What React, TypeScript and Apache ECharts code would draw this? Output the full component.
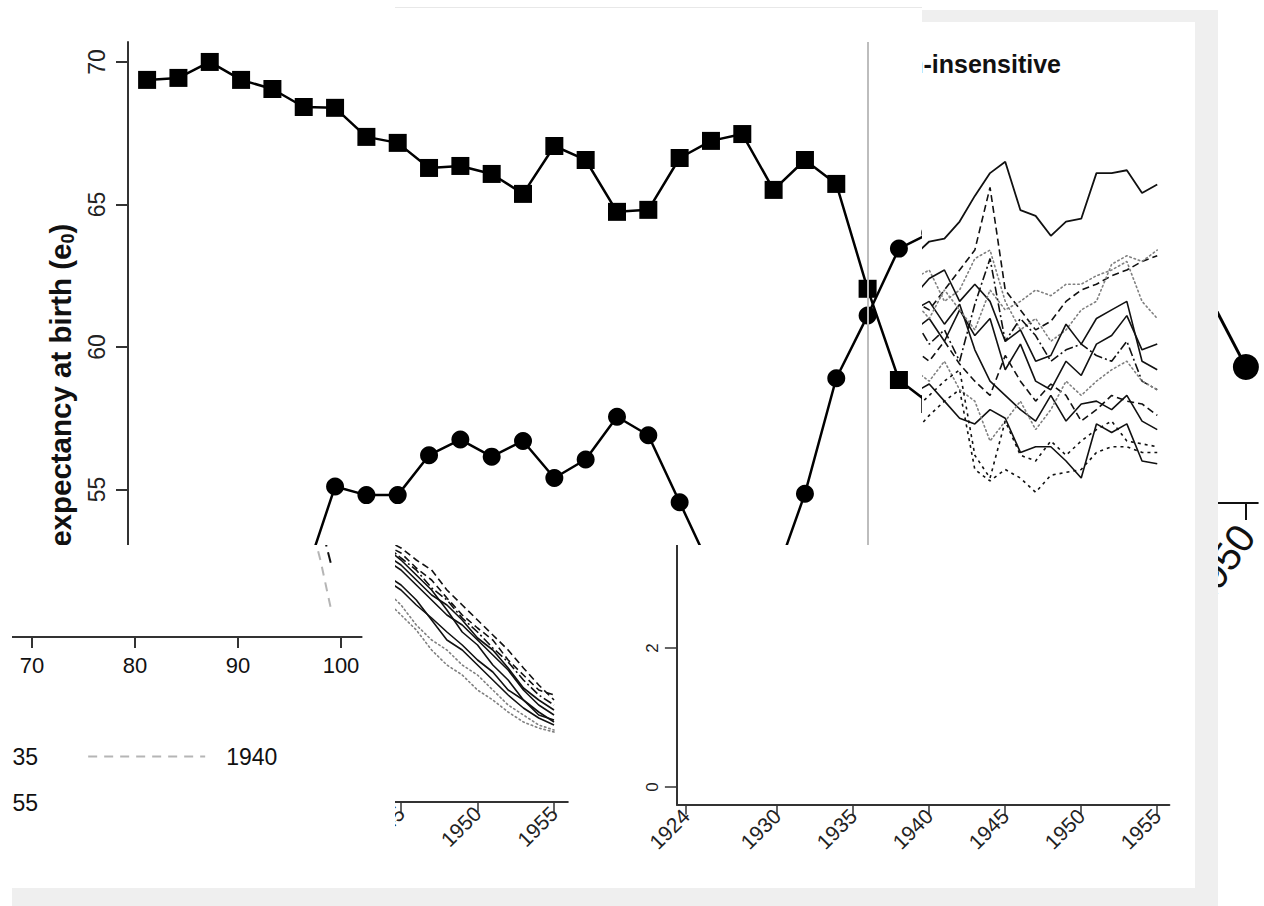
import React, { useEffect, useRef } from "react";
import * as echarts from "echarts";

const FONT = "'Liberation Sans', Arial, Helvetica, sans-serif";

// ---- Main panel: life expectancy at birth of two groups ----
const squareYears = [1924, 1925, 1926, 1927, 1928, 1929, 1930, 1931, 1932, 1933, 1934, 1935, 1936, 1937, 1938, 1939, 1940, 1941, 1942, 1943, 1944, 1945, 1946, 1947, 1948, 1949];
const squareE0 = [69.37, 69.44, 70.0, 69.37, 69.05, 68.42, 68.39, 67.37, 67.16, 66.28, 66.35, 66.07, 65.37, 67.05, 66.56, 64.74, 64.81, 66.63, 67.23, 67.47, 65.51, 66.56, 65.72, 62.04, 58.84, 58.0];
const circleYears = [1929, 1930, 1931, 1932, 1933, 1934, 1935, 1936, 1937, 1938, 1939, 1940, 1941, 1942, 1943, 1944, 1945, 1946, 1947, 1948, 1949];
const circleE0 = [51.8, 55.1, 54.8, 54.8, 56.2, 56.75, 56.15, 56.7, 55.4, 56.05, 57.55, 56.9, 54.55, 52.2, 51.0, 51.75, 54.85, 58.9, 61.1, 63.45, 64.0];
const mainTicks = [50, 55, 60, 65, 70];
const breakYear = 1947;

// ---- Right panel: insensitive scenario runs ----
const panelYears = [1939, 1940, 1941, 1942, 1943, 1944, 1945, 1946, 1947, 1948, 1949, 1950, 1951, 1952, 1953, 1954, 1955];
const runTop = [63.2, 63.7, 63.8, 64.4, 65.3, 66.1, 66.5, 64.8, 64.6, 63.9, 64.4, 64.5, 66.1, 66.1, 66.2, 65.4, 65.7];
const run1 = [58.4, 58.7, 58.1, 57.5, 57.3, 57.8, 57.5, 56.3, 56.5, 56.5, 56.0, 55.4, 57.3, 57.0, 57.3, 56.0, 55.9];
const run2 = [57.0, 57.6, 58.1, 58.5, 55.7, 55.3, 55.7, 55.4, 54.9, 55.5, 55.6, 55.7, 56.3, 56.5, 56.5, 56.3, 56.3];
const run3 = [61.6, 61.3, 62.0, 62.7, 63.4, 65.6, 62.0, 61.3, 60.6, 60.9, 61.6, 62.0, 62.2, 62.5, 62.7, 63.0, 63.2];
const run4 = [60.6, 61.0, 60.2, 61.3, 60.4, 61.0, 59.2, 60.1, 58.8, 58.5, 59.5, 59.0, 60.1, 60.4, 61.1, 59.9, 60.1];
const run5 = [62.4, 62.7, 61.6, 62.0, 63.1, 63.4, 61.6, 60.6, 61.0, 60.2, 60.6, 61.3, 61.6, 62.9, 63.2, 63.0, 63.4];
const run6 = [59.9, 59.5, 60.2, 59.4, 58.8, 58.3, 59.7, 58.8, 58.1, 58.7, 58.3, 57.4, 57.8, 58.3, 58.1, 58.0, 57.6];
const run7 = [61.3, 61.6, 60.8, 61.5, 59.9, 58.8, 58.3, 57.8, 57.4, 58.3, 57.4, 58.0, 58.1, 57.8, 58.3, 57.4, 57.1];
const run8 = [61.0, 60.1, 60.6, 59.5, 61.5, 63.1, 60.2, 61.0, 60.4, 59.5, 59.9, 60.1, 59.7, 59.5, 60.2, 58.8, 58.5];
const run9 = [59.2, 58.8, 59.5, 58.5, 58.1, 56.7, 57.4, 58.1, 57.1, 57.8, 58.8, 58.3, 58.8, 59.2, 59.5, 58.8, 58.5];
const run10 = [57.8, 58.3, 58.8, 59.2, 56.2, 55.4, 57.4, 56.2, 56.0, 56.7, 56.2, 56.7, 57.1, 57.4, 56.7, 56.6, 56.5];
const run11 = [61.8, 62.4, 62.7, 61.6, 62.2, 61.6, 60.2, 60.6, 59.5, 59.7, 60.8, 60.1, 61.0, 61.3, 61.6, 59.5, 59.2];
const run12 = [61.6, 61.0, 62.0, 61.3, 60.6, 62.0, 61.3, 61.6, 62.0, 61.8, 62.2, 62.2, 62.5, 62.7, 63.0, 61.6, 61.0];

// ---- Lower-middle panel: declining runs ----
const declineYears = [1944, 1945, 1946, 1947, 1948, 1949, 1950, 1951, 1952, 1953, 1954, 1955];
const dec1 = [23.0, 22.0, 20.5, 19.0, 17.5, 16.5, 15.0, 13.5, 12.0, 10.0, 8.5, 7.5];
const dec2 = [24.2, 23.0, 21.5, 20.0, 18.0, 15.8, 14.5, 12.5, 11.0, 9.0, 7.8, 6.8];
const dec3 = [24.5, 23.7, 22.2, 21.0, 19.2, 17.5, 16.2, 15.0, 13.0, 11.5, 10.0, 9.5];
const dec4 = [20.0, 18.5, 16.5, 15.0, 14.0, 12.5, 11.5, 10.0, 8.5, 7.5, 6.5, 6.0];
const dec5 = [21.5, 20.5, 19.0, 17.0, 15.0, 14.0, 12.5, 11.0, 9.5, 8.2, 7.2, 6.5];
const dec6 = [25.0, 24.2, 23.0, 22.0, 20.0, 18.5, 17.0, 15.5, 14.0, 12.2, 10.5, 9.0];
const dec7 = [19.0, 17.5, 16.0, 14.0, 12.5, 11.5, 10.0, 9.0, 7.8, 6.8, 6.2, 5.8];
const dec8 = [23.5, 22.5, 21.0, 19.5, 18.5, 17.0, 15.2, 14.0, 12.2, 10.2, 9.0, 8.0];
const dec9 = [24.5, 23.2, 22.0, 20.2, 19.0, 17.2, 15.8, 14.2, 12.8, 11.0, 9.5, 8.5];
const dec10 = [21.0, 20.0, 18.5, 17.2, 15.8, 14.5, 13.0, 11.8, 10.0, 9.0, 7.5, 7.0];

// ---- Lower-left panel: survival tail by age ----
const ageTicks = [70, 80, 90, 100];
const ages = [97, 98, 99];
const surv1935 = [0.3, 0.2, 0.115];
const surv1940 = [0.204, 0.121, 0.021];
const cohortNames = ["1935", "1940", "1955"];

// ---- Lower-right panel axes ----
const yearTicks = [1924, 1930, 1935, 1940, 1945, 1950, 1955];
const rateTicks = [0, 2, 4];

// ---- Far-right enlarged detail ----
const detailYears = [1949, 1950];
const detailE0 = [62.94, 59.32];
const detailTicks = [1950];

const SOLID = { color: "#111", width: 1.6, type: "solid" };
const DASHED = { color: "#111", width: 1.6, type: [7, 4] };
const SHORTDASH = { color: "#111", width: 1.6, type: [3, 4] };
const DOTTED = { color: "#808080", width: 1.6, type: [1.5, 3], cap: "round" };
const DASHDOT = { color: "#111", width: 1.6, type: [9, 3, 2, 3] };

const plain = (v: number) => String(v);
const pairs = (xs: number[], ys: number[]) => xs.map((x, i) => [x, ys[i]]);
const run = (name: string, xs: number[], ys: number[], style: any) => ({
  type: "line",
  name,
  data: pairs(xs, ys),
  symbol: "none",
  silent: true,
  lineStyle: style,
  itemStyle: { color: style.color },
});

type Box = { x: number; y: number; w: number; h: number };

function Chart({ clip, frame, option }: { clip: Box; frame: Box; option: any }) {
  const ref = useRef<HTMLDivElement>(null);
  useEffect(() => {
    const chart = echarts.init(ref.current!, null, { renderer: "svg" });
    chart.setOption(option);
    return () => chart.dispose();
  }, []);
  return (
    <div style={{ position: "absolute", left: clip.x, top: clip.y, width: clip.w, height: clip.h, overflow: "hidden", background: "#fff" }}>
      <div ref={ref} style={{ position: "absolute", left: frame.x - clip.x, top: frame.y - clip.y, width: frame.w, height: frame.h }} />
    </div>
  );
}

const PAGE: Box = { x: 0, y: 0, w: 1264, h: 906 };
const axisColor = "#333";

const mainOption = {
  animation: false,
  grid: { left: 128, top: 42, width: 1009, height: 747.2 },
  xAxis: { type: "value", min: 1923.39, max: 1955.6, show: false },
  yAxis: {
    type: "value",
    min: 44.48,
    max: 70.7,
    axisLine: { show: true, lineStyle: { color: axisColor, width: 2 } },
    axisTick: { show: true, length: 12, customValues: mainTicks, lineStyle: { color: axisColor, width: 2 } },
    axisLabel: { customValues: mainTicks, formatter: plain, rotate: 90, fontSize: 23, margin: 20, color: "#222", fontFamily: FONT },
    splitLine: { show: false },
    name: "{t|Life expectancy at birth (e}{s|0}{t|)}",
    nameLocation: "middle",
    nameRotate: 90,
    nameGap: 45,
    nameTextStyle: {
      rich: {
        t: { fontSize: 29.5, fontWeight: "bold", fontFamily: FONT, color: "#111", lineHeight: 33 },
        s: { fontSize: 18, fontWeight: "bold", fontFamily: FONT, color: "#111", lineHeight: 15, verticalAlign: "bottom" },
      },
    },
  },
  series: [
    {
      type: "line",
      data: [],
      z: 1,
      silent: true,
      markLine: {
        symbol: "none",
        silent: true,
        label: { show: false },
        lineStyle: { color: "#bdbdbd", width: 2, type: "solid" },
        data: [{ xAxis: breakYear }],
      },
    },
    {
      type: "line",
      name: "squares",
      z: 3,
      data: pairs(squareYears, squareE0),
      symbol: "rect",
      symbolSize: 18,
      lineStyle: { color: "#000", width: 2.5 },
      itemStyle: { color: "#000" },
      silent: true,
    },
    {
      type: "line",
      name: "circles",
      z: 3,
      data: pairs(circleYears, circleE0),
      symbol: "circle",
      symbolSize: 18,
      lineStyle: { color: "#000", width: 2.5 },
      itemStyle: { color: "#000" },
      silent: true,
    },
  ],
};

const rightOption = {
  animation: false,
  title: {
    text: "Population-insensitive",
    right: 1264 - 1066,
    top: 46,
    textStyle: { fontSize: 25, fontWeight: "bold", color: "#111", fontFamily: FONT },
  },
  grid: { left: 676.9, top: 42, width: 492.5, height: 732.5 },
  xAxis: { type: "value", min: 1923.4, max: 1955.8, show: false },
  yAxis: { type: "value", min: 45, max: 70.7, show: false },
  series: [
    run("top", panelYears, runTop, { color: "#111", width: 1.8, type: "solid" }),
    run("r1", panelYears, run1, SOLID),
    run("r2", panelYears, run2, SHORTDASH),
    run("r3", panelYears, run3, DASHED),
    run("r4", panelYears, run4, SOLID),
    run("r5", panelYears, run5, DOTTED),
    run("r6", panelYears, run6, DASHED),
    run("r7", panelYears, run7, SOLID),
    run("r8", panelYears, run8, DASHDOT),
    run("r9", panelYears, run9, DOTTED),
    run("r10", panelYears, run10, SHORTDASH),
    run("r11", panelYears, run11, SOLID),
    run("r12", panelYears, run12, DOTTED),
  ],
};

const yearAxis = (fontSize: number, margin: number) => ({
  type: "value",
  axisLine: { show: true, onZero: false, lineStyle: { color: axisColor, width: 2 } },
  axisTick: { show: true, length: 10, customValues: yearTicks, lineStyle: { color: axisColor, width: 1.5 } },
  axisLabel: { customValues: yearTicks, formatter: plain, rotate: 45, fontSize, margin, color: "#222", fontFamily: FONT },
  splitLine: { show: false },
});

const declineOption = {
  animation: false,
  grid: { left: 70.5, top: 390, width: 497.3, height: 412 },
  xAxis: { ...yearAxis(21, 8), min: 1923.4, max: 1955.9 },
  yAxis: { type: "value", min: -1.2, max: 40, show: false },
  series: [
    run("d1", declineYears, dec1, SOLID),
    run("d2", declineYears, dec2, SOLID),
    run("d3", declineYears, dec3, DASHED),
    run("d4", declineYears, dec4, DOTTED),
    run("d5", declineYears, dec5, SOLID),
    run("d6", declineYears, dec6, DASHED),
    run("d7", declineYears, dec7, DOTTED),
    run("d8", declineYears, dec8, SOLID),
    run("d9", declineYears, dec9, DASHDOT),
    run("d10", declineYears, dec10, SOLID),
  ],
};

const rateOption = {
  animation: false,
  grid: { left: 676.9, top: 439.5, width: 492.5, height: 364.9 },
  xAxis: { ...yearAxis(21, 8), min: 1923.4, max: 1955.8 },
  yAxis: {
    type: "value",
    min: -0.25,
    max: 5,
    axisLine: { show: true, onZero: false, lineStyle: { color: axisColor, width: 2 } },
    axisTick: { show: true, length: 12, customValues: rateTicks, lineStyle: { color: axisColor, width: 1.5 } },
    axisLabel: { customValues: rateTicks, formatter: plain, rotate: 90, fontSize: 17, margin: 16, color: "#222", fontFamily: FONT },
    splitLine: { show: false },
  },
  series: [],
};

const legendBase = {
  itemWidth: 117,
  itemHeight: 14,
  itemGap: 49,
  left: 43,
  itemStyle: { opacity: 0 },
  textStyle: { fontSize: 23, color: "#111", fontFamily: FONT, padding: [0, 0, 0, 16] },
};

const survivalOption = {
  animation: false,
  legend: [
    { ...legendBase, data: [cohortNames[0], cohortNames[1]], top: 740 },
    { ...legendBase, data: [cohortNames[2]], top: 786 },
  ],
  grid: { left: 190.8, top: 120, width: 370.8, height: 517 },
  xAxis: {
    type: "value",
    min: 66,
    max: 102,
    axisLine: { show: true, onZero: false, lineStyle: { color: axisColor, width: 2 } },
    axisTick: { show: true, length: 11, customValues: ageTicks, lineStyle: { color: axisColor, width: 2 } },
    axisLabel: { customValues: ageTicks, formatter: plain, fontSize: 22, margin: 17, color: "#111", fontFamily: FONT },
    splitLine: { show: false },
  },
  yAxis: { type: "value", min: -0.04, max: 1.04, show: false },
  series: [
    run(cohortNames[0], ages, surv1935, { color: "#111", width: 2, type: [14, 6] }),
    run(cohortNames[1], ages, surv1940, { color: "#b5b5b5", width: 2, type: [9, 7] }),
    run(cohortNames[2], [], [], { color: "#111", width: 2, type: "solid" }),
  ],
};

const detailOption = {
  animation: false,
  grid: { left: 48, top: 30.5, width: 312, height: 472.5 },
  xAxis: {
    type: "value",
    min: 1945,
    max: 1950.2,
    axisLine: { show: true, onZero: false, lineStyle: { color: "#111", width: 2 } },
    axisTick: { show: true, length: 17, customValues: detailTicks, lineStyle: { color: "#111", width: 2 } },
    axisLabel: { customValues: detailTicks, formatter: plain, rotate: 55, fontSize: 40, margin: 26, color: "#111", fontFamily: FONT },
    splitLine: { show: false },
  },
  yAxis: { type: "value", min: 55, max: 70, show: false },
  series: [
    {
      type: "line",
      data: pairs(detailYears, detailE0),
      symbol: "circle",
      symbolSize: 26,
      lineStyle: { color: "#000", width: 3 },
      itemStyle: { color: "#000" },
      silent: true,
    },
  ],
};

export default function App() {
  return (
    <div style={{ position: "fixed", left: 0, top: 0, width: 1264, height: 906, overflow: "hidden", background: "#fff", fontFamily: FONT }}>
      <div style={{ position: "absolute", left: 12, top: 10, width: 1206, height: 896, background: "#efefef" }} />
      <div style={{ position: "absolute", left: 12, top: 22, width: 1183, height: 866, background: "#fff" }} />
      <Chart clip={{ x: 922, y: 22, w: 273, h: 866 }} frame={PAGE} option={rightOption} />
      <Chart clip={{ x: 12, y: 545, w: 383, h: 343 }} frame={{ x: -200, y: 0, w: 700, h: 906 }} option={survivalOption} />
      <Chart clip={{ x: 395, y: 545, w: 180, h: 343 }} frame={PAGE} option={declineOption} />
      <Chart clip={{ x: 575, y: 545, w: 620, h: 343 }} frame={PAGE} option={rateOption} />
      <div style={{ position: "absolute", left: 395, top: 7, width: 527, height: 1, background: "#e8e8e8" }} />
      <Chart clip={{ x: 0, y: 8, w: 922, h: 537 }} frame={PAGE} option={mainOption} />
      <Chart clip={{ x: 1218, y: 0, w: 46, h: 906 }} frame={{ x: 900, y: 0, w: 364, h: 906 }} option={detailOption} />
    </div>
  );
}
